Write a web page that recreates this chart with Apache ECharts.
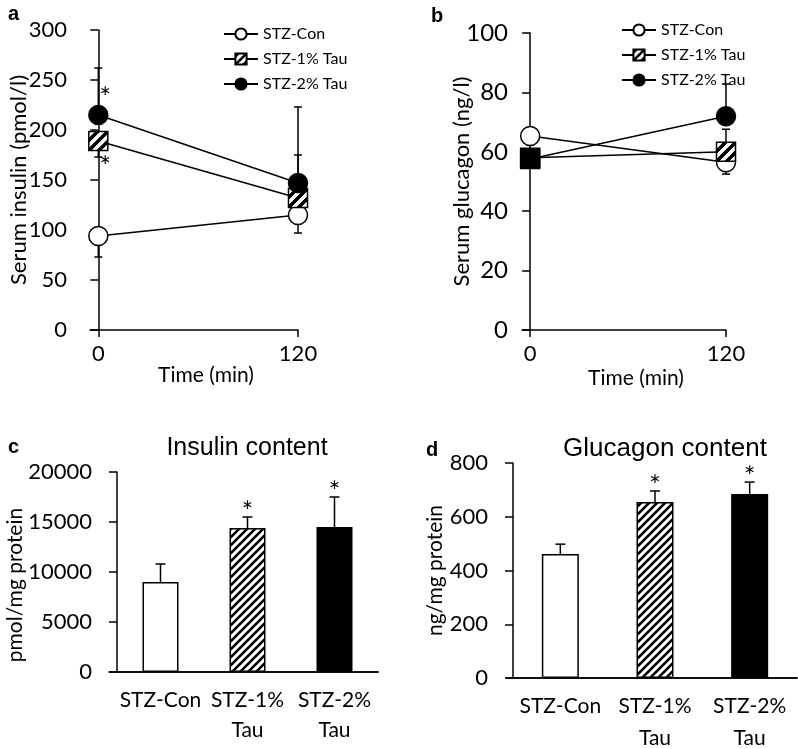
<!DOCTYPE html>
<html><head><meta charset="utf-8">
<script src="https://cdn.jsdelivr.net/npm/echarts@6/dist/echarts.min.js"></script>
<style>html,body{margin:0;padding:0;background:#fff}#c{width:798px;height:749px}</style>
</head><body><div id="c"></div>
<script>
// ---------- data ----------
const groups = ['STZ-Con', 'STZ-1% Tau', 'STZ-2% Tau'];
const timePoints = [0, 120];
const xTickValues = [0, 120];

// panel a: serum insulin (pmol/l)
const insulinCon = [94, 115];
const insulinConErr = [-21, -18];
const insulin1 = [189, 132];
const insulin1Err = [-16, 43];
const insulin2 = [215, 147];
const insulin2Err = [47, 76];
const insulinSigCon = [0, 0];
const insulinSig1 = [1, 0];
const insulinSig2 = [1, 0];

// panel b: serum glucagon (ng/l)
const glucagonCon = [65.3, 56.5];
const glucagonConErr = [0, -4];
const glucagon1 = [58, 60];
const glucagon1Err = [0, 7.6];
const glucagon2 = [57.6, 72];
const glucagon2Err = [0, 10.8];

// panels c, d: content
const barCategories = ['STZ-Con', 'STZ-1%\nTau', 'STZ-2%\nTau'];
const insulinContent = [9000, 14400, 14500];
const insulinContentErr = [1800, 1100, 3000];
const insulinContentSig = [0, 1, 1];
const glucagonContent = [461, 655, 685];
const glucagonContentErr = [37, 41, 44];
const glucagonContentSig = [0, 1, 1];

// ---------- styles ----------
function hatch(size, lw) {
  const c = document.createElement('canvas');
  c.width = c.height = size;
  const g = c.getContext('2d');
  g.fillStyle = '#fff'; g.fillRect(0, 0, size, size);
  g.strokeStyle = '#000'; g.lineWidth = lw; g.lineCap = 'square';
  g.beginPath();
  for (const k of [-size, 0, size]) { g.moveTo(k, size); g.lineTo(k + size, 0); }
  g.stroke();
  return c;
}
const hatchFill = { image: hatch(8, 2.6), repeat: 'repeat' };
const SYMBOL_SIZE = 19;
// series symbols are drawn in a unit box and scaled, so the pattern is scaled back
const hatchFillSymbol = { image: hatch(40, 14), repeat: 'repeat', scaleX: 0.5 / SYMBOL_SIZE, scaleY: 0.5 / SYMBOL_SIZE };
const FONT = 'Lato';
const groupFill = ['#fff', hatchFill, '#000'];
const groupPointFill = ['#fff', hatchFillSymbol, '#000'];
const groupSymbol = ['circle', 'rect', 'circle'];

const chart = echarts.init(document.getElementById('c'));

function lineSeries(xi, values, errs, sigs, gi, overrideFirstSymbol) {
  return {
    type: 'line', name: groups[gi], xAxisIndex: xi, yAxisIndex: xi, z: 3,
    symbol: groupSymbol[gi], symbolSize: SYMBOL_SIZE,
    lineStyle: { color: '#000', width: 1.5 },
    itemStyle: { color: groupFill[gi], borderColor: '#000', borderWidth: 1.5 },
    emphasis: { disabled: true },
    data: timePoints.map((t, i) => {
      const d = { value: [t, values[i]], itemStyle: { color: groupPointFill[gi] } };
      if (i === 0 && overrideFirstSymbol) d.symbol = overrideFirstSymbol;
      if (sigs && sigs[i]) {
        d.label = { show: true, formatter: '*', position: 'inside', fontSize: 27, fontFamily: FONT, color: '#000',
          offset: errs[i] < 0 ? [7, 26] : [7, -17] };
      }
      return d;
    })
  };
}

function errRender(capW) {
  return function (params, api) {
    const x = api.value(0), v = api.value(1), e = api.value(2), s = api.value(3);
    if (!e) return { type: 'group', children: [] };
    const p0 = api.coord([x, v]), p1 = api.coord([x, v + e]);
    const st = { stroke: '#000', lineWidth: 1.5 };
    const children = [
      { type: 'line', shape: { x1: p0[0], y1: p0[1], x2: p1[0], y2: p1[1] }, style: st },
      { type: 'line', shape: { x1: p1[0] - capW / 2, y1: p1[1], x2: p1[0] + capW / 2, y2: p1[1] }, style: st }
    ];
    if (s) children.push({ type: 'text', x: p1[0], y: p1[1] - 5,
      style: { text: '*', fontSize: 27, fontFamily: FONT, align: 'center', verticalAlign: 'middle', fill: '#000' } });
    return { type: 'group', children };
  };
}

function errSeries(xi, xs, values, errs, sigs, capW) {
  return {
    type: 'custom', xAxisIndex: xi, yAxisIndex: xi, z: 2, silent: true,
    renderItem: errRender(capW),
    data: xs.map((x, i) => [x, values[i], errs[i], sigs ? sigs[i] : 0])
  };
}

const axisLineStyle = { show: true, lineStyle: { color: '#000', width: 1.5 } };
const noGrid = { show: false };
const plain = v => String(v);

function timeXAxis(gi, padLeft, nameGap) {
  return {
    gridIndex: gi, type: 'value', min: -5, max: 120,
    axisLine: axisLineStyle, splitLine: noGrid,
    axisTick: { show: true, customValues: xTickValues, length: 7, lineStyle: { color: '#000', width: 1.5 } },
    axisLabel: { customValues: xTickValues, fontSize: 22, fontFamily: FONT, color: '#000', margin: 13, formatter: plain },
    name: 'Time (min)', nameLocation: 'middle', nameGap: nameGap, nameMoveOverlap: false,
    nameTextStyle: { fontSize: 21, fontFamily: FONT, color: '#000', padding: [0, 0, 0, padLeft] }
  };
}
function valYAxis(gi, max, interval, fontSize, margin, name, nameGap, nameSize, namePad) {
  return {
    gridIndex: gi, type: 'value', min: 0, max: max, interval: interval,
    axisLine: Object.assign({ onZero: true }, axisLineStyle), splitLine: noGrid,
    axisTick: { show: true, length: 8, lineStyle: { color: '#000', width: 1.5 } },
    axisLabel: { fontSize: fontSize, fontFamily: FONT, color: '#000', margin: margin, formatter: plain },
    name: name, nameLocation: 'middle', nameGap: nameGap, nameMoveOverlap: false,
    nameTextStyle: { fontSize: nameSize, fontFamily: FONT, color: '#000', padding: namePad || 0 }
  };
}
function catXAxis(gi, lh, margin) {
  return {
    gridIndex: gi, type: 'category', data: barCategories,
    axisLine: axisLineStyle, axisTick: { show: false }, splitLine: noGrid,
    axisLabel: { fontSize: 21, fontFamily: FONT, color: '#000', lineHeight: lh, margin: margin, interval: 0 }
  };
}
function extXAxis(gi) {
  return { gridIndex: gi, type: 'value', min: 0, max: 1, axisLine: axisLineStyle,
    axisTick: { show: false }, axisLabel: { show: false }, splitLine: noGrid };
}

const barStyles = [
  { color: '#fff', borderColor: '#000', borderWidth: 1.5 },
  { color: hatchFill, borderColor: '#000', borderWidth: 1.5 },
  { color: '#000', borderColor: '#000', borderWidth: 1.5 }
];
function barSeries(xi, values, bw) {
  return {
    type: 'bar', xAxisIndex: xi, yAxisIndex: xi, barWidth: bw, z: 2, silent: true,
    data: values.map((v, i) => ({ value: v, itemStyle: barStyles[i] }))
  };
}

const letterStyle = { fontSize: 20, fontWeight: 'bold', fontFamily: 'Liberation Sans', color: '#000' };
const titleStyle = { fontSize: 25, fontWeight: 'normal', fontFamily: 'Liberation Sans', color: '#000' };

const option = {
  animation: false,
  backgroundColor: '#fff',
  title: [
    { text: 'a', left: 8, top: 4, padding: 0, textStyle: letterStyle },
    { text: 'b', left: 431, top: 6, padding: 0, textStyle: letterStyle },
    { text: 'c', left: 8, top: 437, padding: 0, textStyle: letterStyle },
    { text: 'd', left: 426, top: 440, padding: 0, textStyle: letterStyle },
    { text: 'Insulin content', left: 247, textAlign: 'center', top: 436, padding: 0, textStyle: titleStyle },
    { text: 'Glucagon content', left: 665, textAlign: 'center', top: 436, padding: 0, textStyle: Object.assign({}, titleStyle, { fontSize: 26 }) }
  ],
  legend: [
    { data: groups, left: 223, top: 26, orient: 'vertical', itemWidth: 34, itemHeight: 14, itemGap: 9, padding: 0,
      selectedMode: false, textStyle: { fontSize: 16, fontFamily: FONT, color: '#000' } },
    { data: groups, left: 621, top: 22, orient: 'vertical', itemWidth: 34, itemHeight: 14, itemGap: 9, padding: 0,
      selectedMode: false, textStyle: { fontSize: 16, fontFamily: FONT, color: '#000' } }
  ],
  grid: [
    { left: 90, top: 30, width: 208, height: 300, outerBoundsMode: 'none' },
    { left: 522, top: 33, width: 204, height: 297, outerBoundsMode: 'none' },
    { left: 117, top: 472, width: 261, height: 200, outerBoundsMode: 'none' },
    { left: 513, top: 463, width: 284, height: 215, outerBoundsMode: 'none' },
    { left: 109, top: 472, width: 269, height: 200, outerBoundsMode: 'none' },
    { left: 506, top: 463, width: 291, height: 215, outerBoundsMode: 'none' }
  ],
  xAxis: [
    timeXAxis(0, 24, 35),
    timeXAxis(1, 24, 38),
    catXAxis(2, 30, 13),
    catXAxis(3, 32, 12),
    extXAxis(4),
    extXAxis(5)
  ],
  yAxis: [
    valYAxis(0, 300, 50, 22, 23, 'Serum insulin (pmol/l)', 60, 22),
    valYAxis(1, 100, 20, 24, 14, 'Serum glucagon (ng/l)', 49, 22),
    valYAxis(2, 20000, 5000, 22, 25, 'pmol/mg protein', 91, 21, [0, 26, 0, 0]),
    valYAxis(3, 800, 200, 22, 25, 'ng/mg protein', 67, 21),
    { gridIndex: 4, show: false, min: 0, max: 1 },
    { gridIndex: 5, show: false, min: 0, max: 1 }
  ],
  series: [
    errSeries(0, timePoints, insulinCon, insulinConErr, null, 8),
    errSeries(0, timePoints, insulin1, insulin1Err, null, 8),
    errSeries(0, timePoints, insulin2, insulin2Err, null, 8),
    lineSeries(0, insulinCon, insulinConErr, insulinSigCon, 0),
    lineSeries(0, insulin1, insulin1Err, insulinSig1, 1),
    lineSeries(0, insulin2, insulin2Err, insulinSig2, 2),

    errSeries(1, timePoints, glucagonCon, glucagonConErr, null, 8),
    errSeries(1, timePoints, glucagon1, glucagon1Err, null, 8),
    errSeries(1, timePoints, glucagon2, glucagon2Err, null, 8),
    lineSeries(1, glucagonCon, glucagonConErr, null, 0),
    lineSeries(1, glucagon1, glucagon1Err, null, 1),
    lineSeries(1, glucagon2, glucagon2Err, null, 2, 'rect'),

    barSeries(2, insulinContent, 36),
    Object.assign(errSeries(2, [0, 1, 2], insulinContent, insulinContentErr, insulinContentSig, 10), { z: 1 }),
    barSeries(3, glucagonContent, 37),
    Object.assign(errSeries(3, [0, 1, 2], glucagonContent, glucagonContentErr, glucagonContentSig, 10), { z: 1 })
  ]
};
chart.setOption(option);
</script>
</body></html>
